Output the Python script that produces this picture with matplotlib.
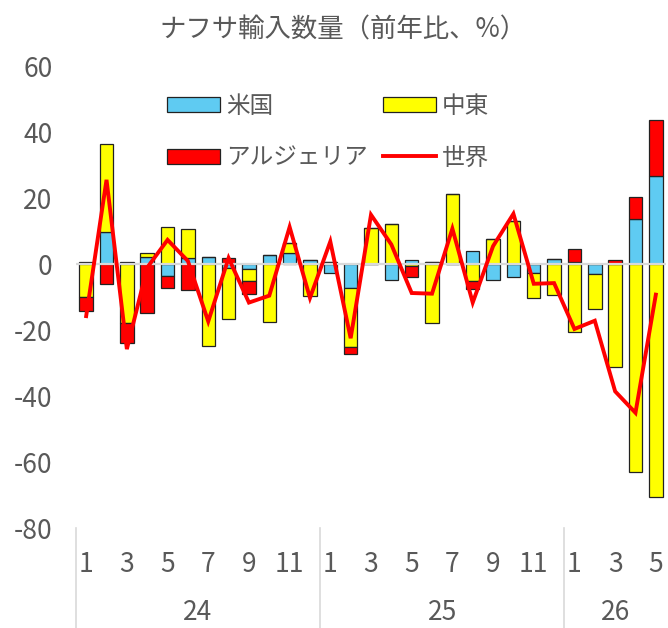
import matplotlib
matplotlib.use('Agg')
import matplotlib.pyplot as plt
import matplotlib.transforms as mtransforms
import numpy as np

plt.rcParams['font.family'] = ['Noto Sans CJK JP', 'DejaVu Sans']
plt.rcParams['axes.unicode_minus'] = False

# month labels (odd months shown), year groups
months = [1, 2, 3, 4, 5, 6, 7, 8, 9, 10, 11, 12,
          1, 2, 3, 4, 5, 6, 7, 8, 9, 10, 11, 12,
          1, 2, 3, 4, 5]
years = ['24', '25', '26']
year_len = [12, 12, 5]

# contributions by region (%pt) and world total (%)
us = [0.6, 9.9, 0.8, 2.3, -3.5, 1.8, 2.1, -1.0, -1.4, 2.8, 3.3, 1.3,
      -2.5, -7.1, 0.0, -4.9, 1.3, 0.8, 0.0, 4.0, -4.7, -3.8, -2.7, 1.5,
      0.8, -3.0, 0.0, 13.7, 26.9]
me = [-9.8, 26.6, -17.7, 1.0, 11.3, 9.0, -24.7, -15.5, -3.8, -17.4, 3.2, -9.5,
      0.8, -17.9, 10.9, 12.1, -0.5, -17.7, 21.4, -5.0, 7.8, 13.1, -7.4, -9.3,
      -20.6, -10.6, -31.0, -62.8, -70.4]
alg = [-4.5, -6.1, -6.3, -14.8, -3.8, -7.8, 0.0, 1.9, -3.8, 0.0, 0.0, 0.0,
       0.0, -2.1, 0.0, 0.0, -3.5, 0.0, 0.0, -2.5, 0.0, 0.0, 0.0, 0.0,
       3.7, 0.0, 1.3, 6.6, 16.7]
world = [-15.7, 25.6, -25.7, -1.0, 7.4, 1.0, -17.3, 1.9, -11.6, -9.5, 11.3, -10.2,
         6.9, -22.4, 15.0, 6.0, -8.7, -8.9, 10.8, -11.6, 5.5, 15.3, -5.9, -5.7,
         -19.6, -17.1, -38.5, -45.0, -9.2]

gray = '#595959'
W, H = 668, 628
fig = plt.figure(figsize=(W / 100, H / 100), dpi=100)
ax = fig.add_axes([76 / W, (H - 528.3) / H, 590 / W, 462 / H])

x = np.arange(len(months))
pos_base = np.zeros(len(x))
neg_base = np.zeros(len(x))
series = [(us, '#5FCBF2', '米国'), (me, '#FFFF00', '中東'), (alg, '#FF0000', 'アルジェリア')]
handles = {}
for vals, col, lab in series:
    v = np.array(vals)
    bottom = np.where(v >= 0, pos_base, neg_base)
    b = ax.bar(x, v, 0.66, bottom=bottom, color=col, edgecolor='#222222',
               linewidth=0.9, label=lab, zorder=1)
    handles[lab] = b
    pos_base += np.where(v > 0, v, 0)
    neg_base += np.where(v < 0, v, 0)

ax.axhline(0, color='#D9D9D9', lw=1.6, zorder=1.5)
ln, = ax.plot(x, world, color='#FF0000', lw=2.8, label='世界', zorder=3,
              solid_joinstyle='miter')

ax.set_xlim(-0.5, len(x) - 0.5)
ax.set_ylim(-80, 60)
ax.set_yticks(range(-80, 61, 20))
ax.tick_params(axis='y', length=0, pad=17, labelsize=19, labelcolor=gray)
ax.set_xticks([])
for s in ax.spines.values():
    s.set_visible(False)

trans = mtransforms.blended_transform_factory(ax.transData, ax.transAxes)
for i, m in enumerate(months):
    if m % 2 == 1:
        ax.text(i, -0.079, str(m), transform=trans, ha='center', va='center',
                fontsize=19, color=gray)
start = 0
for y, n in zip(years, year_len):
    ax.text(start + n / 2 - 0.5, -0.183, y, transform=trans, ha='center',
            va='center', fontsize=19, color=gray)
    ax.plot([start - 0.5, start - 0.5], [0, -0.25], transform=trans,
            color='#D9D9D9', lw=1.2, clip_on=False)
    start += n

fig.text(343 / W, 1 - 30 / H, 'ナフサ輸入数量（前年比、%）', ha='center', va='center',
         fontsize=19, color=gray)

leg = fig.legend([handles['米国'], handles['アルジェリア'], handles['中東'], ln],
                 ['米国', 'アルジェリア', '中東', '世界'],
                 ncol=2, loc='upper left', bbox_to_anchor=(167 / W, 1 - 95 / H),
                 frameon=False, fontsize=17, handlelength=2.25, handleheight=0.6,
                 handletextpad=0.25, columnspacing=0.65, labelspacing=1.2,
                 borderpad=0, borderaxespad=0)
for t in leg.get_texts():
    t.set_color(gray)

fig.savefig('out.png', dpi=100)
